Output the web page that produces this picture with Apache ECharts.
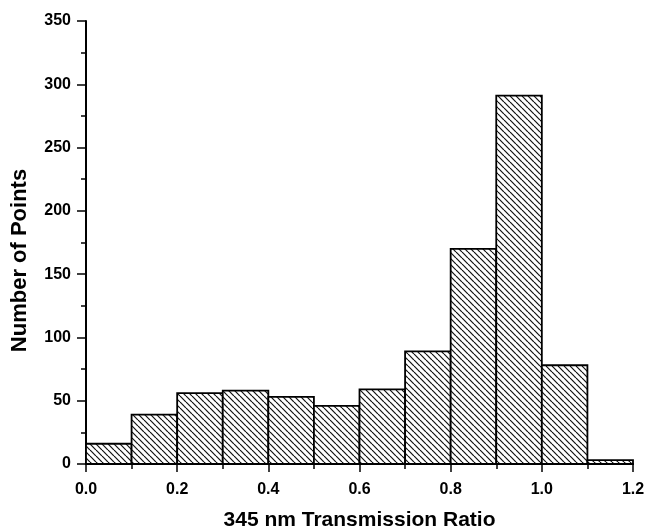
<!DOCTYPE html>
<html>
<head>
<meta charset="utf-8">
<script src="https://cdn.jsdelivr.net/npm/echarts@6/dist/echarts.min.js"></script>
<style>
  html, body { margin: 0; padding: 0; background: #fff; }
  #chart { width: 647px; height: 531px; }
</style>
</head>
<body>
<div id="chart"></div>
<script>
// bin edges (left side of each bar) and bar counts
var binStart = [0.0, 0.1, 0.2, 0.3, 0.4, 0.5, 0.6, 0.7, 0.8, 0.9, 1.0, 1.1];
var binWidth = 0.1;
var counts = [16, 39, 56, 58, 53, 46, 59, 89, 170, 291, 78, 3];

// hatch pattern: diagonal lines "\\\\"
function makeHatch() {
  var s = 6;
  var c = document.createElement('canvas');
  c.width = s; c.height = s;
  var ctx = c.getContext('2d');
  ctx.fillStyle = '#fff';
  ctx.fillRect(0, 0, s, s);
  ctx.strokeStyle = '#111';
  ctx.lineWidth = 1.2;
  for (var k = -1; k <= 1; k++) {
    ctx.beginPath();
    ctx.moveTo(k * s, 0);
    ctx.lineTo(k * s + s, s);
    ctx.stroke();
  }
  return c;
}
var hatch = { image: makeHatch(), repeat: 'repeat' };

var data = binStart.map(function (x, i) {
  return [x, x + binWidth, counts[i]];
});

var font = '"Liberation Sans", Arial, sans-serif';
var chart = echarts.init(document.getElementById('chart'));

chart.setOption({
  animation: false,
  grid: { left: 86, right: 14, top: 21, bottom: 67, containLabel: false, outerBoundsMode: 'none' },
  xAxis: {
    type: 'value',
    min: 0, max: 1.2, interval: 0.2,
    name: '345 nm Transmission Ratio',
    nameLocation: 'middle',
    nameGap: 46,
    nameTextStyle: { fontFamily: font, fontWeight: 'bold', fontSize: 21, color: '#000' },
    axisLine: { show: true, onZero: false, lineStyle: { color: '#000', width: 2 } },
    axisTick: { show: true, inside: false, length: 8, lineStyle: { color: '#000', width: 1.5 } },
    minorTick: { show: true, splitNumber: 2, length: 5, lineStyle: { color: '#000', width: 1.5 } },
    axisLabel: {
      margin: 18, fontFamily: font, fontWeight: 'bold', fontSize: 16, color: '#000',
      formatter: function (v) { return v.toFixed(1); }
    },
    splitLine: { show: false }
  },
  yAxis: {
    type: 'value',
    min: 0, max: 350, interval: 50,
    name: 'Number of Points',
    nameLocation: 'middle',
    nameGap: 55,
    nameTextStyle: { fontFamily: font, fontWeight: 'bold', fontSize: 22, color: '#000', padding: [0, 36, 0, 0] },
    axisLine: { show: true, lineStyle: { color: '#000', width: 2 } },
    axisTick: { show: true, inside: false, length: 9, lineStyle: { color: '#000', width: 1.5 } },
    minorTick: { show: true, splitNumber: 2, length: 5, lineStyle: { color: '#000', width: 1.5 } },
    axisLabel: { margin: 15, fontFamily: font, fontWeight: 'bold', fontSize: 16, color: '#000' },
    splitLine: { show: false }
  },
  series: [{
    type: 'custom',
    data: data,
    encode: { x: [0, 1], y: 2 },
    renderItem: function (params, api) {
      var p0 = api.coord([api.value(0), api.value(2)]);
      var p1 = api.coord([api.value(1), 0]);
      return {
        type: 'rect',
        shape: { x: p0[0], y: p0[1], width: p1[0] - p0[0], height: p1[1] - p0[1] },
        style: { fill: hatch, stroke: '#000', lineWidth: 1.8 }
      };
    }
  }]
});
</script>
</body>
</html>
